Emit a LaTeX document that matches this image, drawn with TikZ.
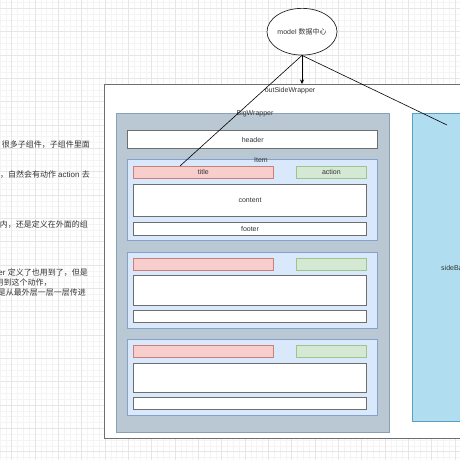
\documentclass[tikz,border=0pt]{standalone}
\usepackage{fontspec}
\setmainfont{Liberation Sans}
\newfontfamily\cjk{Noto Sans CJK SC}
\usetikzlibrary{shapes.geometric,arrows.meta,calc}
\definecolor{gridminor}{HTML}{F4F4F4}
\definecolor{gridmajor}{HTML}{E6E6E6}
\definecolor{txt}{HTML}{333333}
\definecolor{bwfill}{HTML}{BAC8D3}
\definecolor{bwdraw}{HTML}{8AA0B4}
\definecolor{itfill}{HTML}{DAE8FC}
\definecolor{itdraw}{HTML}{85A2CC}
\definecolor{tfill}{HTML}{F8CECC}
\definecolor{tdraw}{HTML}{CC7E7B}
\definecolor{afill}{HTML}{D5E8D4}
\definecolor{adraw}{HTML}{9CC68A}
\definecolor{sfill}{HTML}{B1DDF0}
\definecolor{sdraw}{HTML}{5A9EC0}
\definecolor{boxdraw}{HTML}{6E6E6E}
\tikzset{
  lbl/.style={font=\fontsize{7}{8}\selectfont, text=txt, inner sep=0pt},
  sidetxt/.style={font=\fontsize{8}{9.6}\selectfont, text=txt, inner sep=0pt, anchor=east},
  rbox/.style={rectangle, anchor=north west, inner sep=0pt, outer sep=0pt},
  outerbox/.style={rbox, draw=boxdraw, fill=white, line width=0.9pt},
  bigbox/.style={rbox, draw=bwdraw, fill=bwfill, line width=0.9pt},
  itembox/.style={rbox, draw=itdraw, fill=itfill, line width=0.8pt},
  whitebox/.style={rbox, draw=boxdraw, fill=white, line width=1pt, lbl},
  titlebox/.style={rbox, draw=tdraw, fill=tfill, line width=0.8pt, lbl},
  actionbox/.style={rbox, draw=adraw, fill=afill, line width=0.8pt, lbl},
  sidebox/.style={rbox, draw=sdraw, fill=sfill, line width=0.8pt},
  conn/.style={draw=black, line width=0.6pt},
}
\begin{document}
\begin{tikzpicture}[x=1pt,y=-1pt]
\useasboundingbox (0,0) rectangle (460,460);
\clip (0,0) rectangle (460,460);
\fill[white] (0,0) rectangle (460,460);
% grid
\foreach \i in {0,...,79} {
  \draw[gridminor, line width=0.5pt] ({\i*5.8333},0) -- ({\i*5.8333},460);
  \draw[gridminor, line width=0.5pt] (0,{2.5+\i*5.8333}) -- (460,{2.5+\i*5.8333});
}
\foreach \i in {0,...,19} {
  \draw[gridmajor, line width=0.6pt] ({11.667+\i*23.333},0) -- ({11.667+\i*23.333},460);
  \draw[gridmajor, line width=0.6pt] (0,{8.333+\i*23.333}) -- (460,{8.333+\i*23.333});
}
% left text (cut off)
\node[sidetxt] (s1) at (90,145) {{\cjk 很多子组件，子组件里面}};
\node[sidetxt] (s2) at (90,175) {{\cjk ，自然会有动作} action {\cjk 去}};
\node[sidetxt] (s3) at (88,224.3) {{\cjk 内，还是定义在外面的组}};
\node[sidetxt] (s4) at (88,272.7) {er {\cjk 定义了也用到了，但是}};
\node[sidetxt] (s5) at (51.7,282.7) {{\cjk 用到这个动作，}};
\node[sidetxt] (s6) at (86,292.7) {{\cjk 是从最外层一层一层传进}};
% ellipse
\node[ellipse, draw=black!85, fill=white, line width=0.7pt, minimum width=70pt, minimum height=46.7pt, inner sep=0pt, font=\fontsize{7}{8}\selectfont, text=txt] (model) at (302,31.7) {model {\cjk 数据中心}};
% outer wrapper
\node[outerbox, minimum width=371.7pt, minimum height=354.3pt] (outer) at (104.3,84) {};
\node[lbl] (outerlbl) at (290,90.5) {outSideWrapper};
% sidebar
\node[sidebox, minimum width=80pt, minimum height=307.7pt] (side) at (412.3,113.3) {};
\node[lbl, anchor=west] (sidelbl) at (441,267.7) {sideBar};
% big wrapper
\node[bigbox, minimum width=273.3pt, minimum height=319.4pt] (big) at (116,113.3) {};
\node[lbl] (biglbl) at (255,113.6) {BigWrapper};
\node[whitebox, minimum width=250pt, minimum height=17.6pt] (header) at (127.7,130.7) {header};
% item 1
\node[itembox, minimum width=250.4pt, minimum height=81.4pt] (item1) at (127.3,159.3) {};
\node[lbl] (item1lbl) at (261,160.3) {Item};
\node[titlebox, minimum width=140pt, minimum height=12.7pt] (title1) at (133.3,166) {title};
\node[actionbox, minimum width=70.7pt, minimum height=12.7pt] (action1) at (296,166) {action};
\node[whitebox, minimum width=233.4pt, minimum height=32pt] (content1) at (133.3,184.3) {content};
\node[whitebox, minimum width=233.4pt, minimum height=13pt] (footer1) at (133.3,222) {footer};
% item 2
\node[itembox, minimum width=250.4pt, minimum height=75.6pt] (item2) at (127.3,252.7) {};
\node[titlebox, minimum width=140pt, minimum height=12pt] (title2) at (133.3,258.3) {};
\node[actionbox, minimum width=70.7pt, minimum height=12pt] (action2) at (296,258.3) {};
\node[whitebox, minimum width=233.4pt, minimum height=29.6pt] (content2) at (133.3,275.7) {};
\node[whitebox, minimum width=233.4pt, minimum height=12.4pt] (footer2) at (133.3,310.3) {};
% item 3
\node[itembox, minimum width=250.4pt, minimum height=75.6pt] (item3) at (127.3,339.7) {};
\node[titlebox, minimum width=140pt, minimum height=11.6pt] (title3) at (133.3,345.7) {};
\node[actionbox, minimum width=70.7pt, minimum height=11.6pt] (action3) at (296,345.7) {};
\node[whitebox, minimum width=233.4pt, minimum height=29.3pt] (content3) at (133.3,363) {};
\node[whitebox, minimum width=233.4pt, minimum height=12pt] (footer3) at (133.3,397.7) {};
% connectors
\coordinate (tend) at ($(title1.north west)+(46.7,0)$);
\coordinate (send) at (447,125);
\draw[conn, -{Stealth[length=4.5pt,width=4pt]}] (model.south) -- (model.south |- outer.north);
\draw[conn] (model.south) -- (tend);
\draw[conn] (model.south) -- (send);
\end{tikzpicture}
\end{document}
